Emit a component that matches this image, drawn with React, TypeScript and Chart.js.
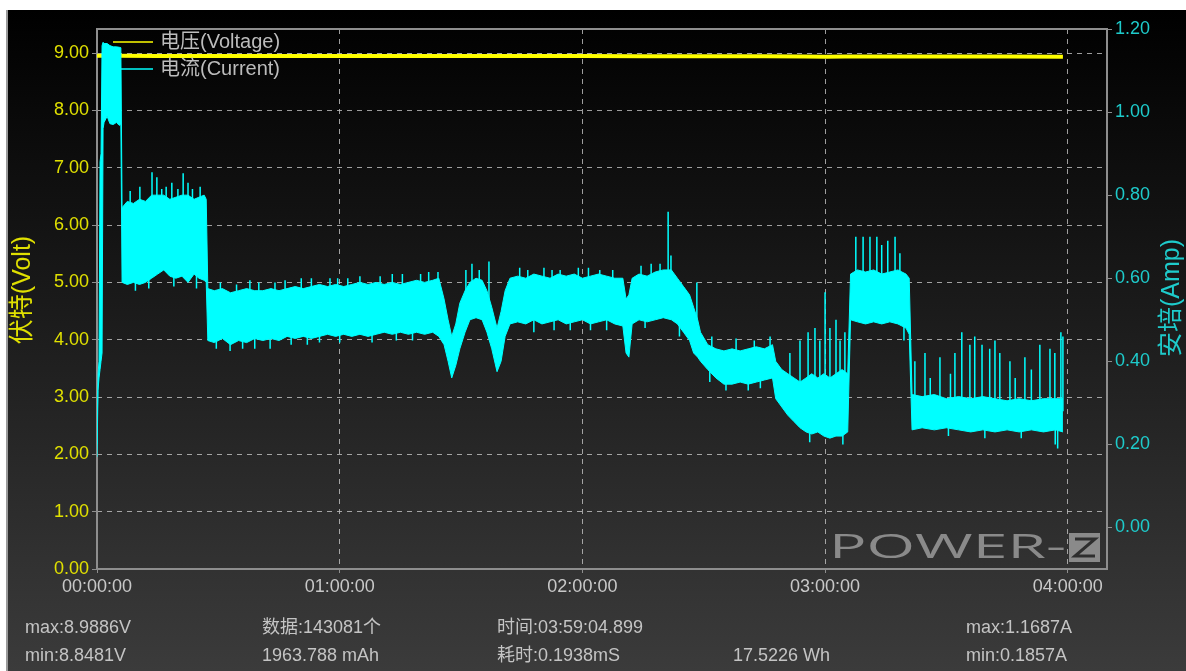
import React, { useEffect, useRef } from 'react';
import { Chart, registerables } from 'chart.js';

Chart.register(...registerables);

const FONT = '"Liberation Sans", Arial, "Noto Sans CJK SC", sans-serif';
const CYAN = '#00ffff';
const YELLOW = '#ffff00';
const YELLOW_LABEL = '#e0e000';
const CYAN_LABEL = '#1ecbcb';
const GRID = 'rgba(195,195,195,0.8)';
const FRAME = '#8e8e8e';

// ---- tick values ----
const timeTicksMin = [0, 60, 120, 180, 240];
const voltTicks = [0, 1, 2, 3, 4, 5, 6, 7, 8, 9];
const ampTicks = [0, 0.2, 0.4, 0.6, 0.8, 1.0, 1.2];

// ---- voltage (V) vs time (minutes) ----
const voltageTimes = [0, 5, 15, 30, 45, 60, 75, 90, 105, 120, 135, 150, 165, 175, 180, 185, 195, 210, 225, 238.8];
const voltageValues = [8.955, 8.955, 8.95, 8.95, 8.948, 8.95, 8.948, 8.95, 8.947, 8.947, 8.945, 8.946, 8.944, 8.94, 8.938, 8.94, 8.942, 8.94, 8.94, 8.938];

// ---- current (A) envelope vs time (minutes) ----
const currentTimes = [
  0, 0.25, 0.5, 0.75, 1.0, 1.25, 1.5, 1.75,
  2.5, 3.2, 4.0, 4.8, 5.5, 5.9,
  6.2, 7.5, 9, 10.5, 12, 13.5, 15, 16.5, 18, 19.5, 21, 22.5, 24, 25.2, 26.5, 27.0,
  27.4, 29, 31, 33, 35, 37, 39, 41, 43, 45, 47, 49, 51, 53, 55, 57, 59, 61, 63, 65, 67, 69, 71, 73, 75, 77, 79, 81, 83, 84.5,
  85.8, 86.8, 87.7, 88.7, 89.7, 91.0, 92.2, 93.7, 95.2, 96.4, 97.6, 98.9, 99.9, 100.9, 102.1,
  104, 106, 108, 110, 112, 114, 116, 118, 120, 122, 124, 126, 128, 130,
  130.8, 131.5,
  132.3, 134, 136, 138, 140, 142, 143.5, 145, 146.5, 147.5, 148.5,
  149.2, 151, 153, 155, 157, 159, 161, 163, 165, 167,
  167.8, 169.3, 170.8, 172.3, 173.8, 175.3, 176.7, 178.2, 179.7, 181.2, 182.7, 184.2, 185.6,
  186.3, 188, 190, 192, 194, 196, 198, 200, 200.8,
  201.5, 204, 207, 210, 213, 216, 219, 222, 225, 228, 231, 234, 237, 238.8,
];
const currentHigh = [
  0.20, 0.37, 0.40, 0.88, 0.90, 1.16, 1.168, 1.165,
  1.165, 1.16, 1.157, 1.157, 1.156, 1.155,
  0.77, 0.785, 0.78, 0.79, 0.785, 0.80, 0.80, 0.80, 0.79, 0.795, 0.80, 0.80, 0.79, 0.795, 0.80, 0.79,
  0.575, 0.57, 0.575, 0.565, 0.57, 0.575, 0.57, 0.57, 0.575, 0.57, 0.575, 0.58, 0.575, 0.58, 0.585, 0.58, 0.585, 0.58, 0.585, 0.59, 0.585, 0.59, 0.585, 0.59, 0.585, 0.59, 0.595, 0.59, 0.595, 0.60,
  0.55, 0.50, 0.46, 0.49, 0.54, 0.57, 0.59, 0.60, 0.595, 0.57, 0.53, 0.48, 0.52, 0.57, 0.60,
  0.605, 0.60, 0.61, 0.605, 0.60, 0.61, 0.605, 0.61, 0.60, 0.605, 0.61, 0.605, 0.60, 0.60,
  0.55, 0.56,
  0.60, 0.61, 0.605, 0.615, 0.62, 0.62, 0.60, 0.58, 0.56, 0.53, 0.50,
  0.47, 0.44, 0.43, 0.425, 0.43, 0.425, 0.43, 0.435, 0.43, 0.44,
  0.40, 0.38, 0.37, 0.36, 0.35, 0.36, 0.37, 0.36, 0.37, 0.36, 0.37, 0.38, 0.37,
  0.61, 0.62, 0.615, 0.62, 0.61, 0.615, 0.62, 0.61, 0.60,
  0.32, 0.315, 0.32, 0.31, 0.315, 0.31, 0.315, 0.31, 0.305, 0.31, 0.305, 0.31, 0.31, 0.31,
];
const currentLow = [
  0.17, 0.33, 0.36, 0.38, 0.40, 0.42, 0.96, 0.975,
  0.99, 0.972, 0.97, 0.975, 0.968, 0.97,
  0.59, 0.585, 0.59, 0.585, 0.59, 0.60, 0.61, 0.62, 0.605, 0.60, 0.605, 0.59, 0.61, 0.60, 0.595, 0.59,
  0.45, 0.445, 0.455, 0.44, 0.45, 0.445, 0.455, 0.45, 0.455, 0.45, 0.46, 0.455, 0.46, 0.455, 0.46, 0.465, 0.46, 0.465, 0.46, 0.465, 0.46, 0.465, 0.47, 0.465, 0.47, 0.465, 0.47, 0.465, 0.47, 0.46,
  0.44, 0.40, 0.36, 0.39, 0.43, 0.47, 0.50, 0.505, 0.50, 0.47, 0.43, 0.375, 0.40, 0.46, 0.49,
  0.495, 0.49, 0.50, 0.49, 0.495, 0.50, 0.49, 0.495, 0.50, 0.49, 0.495, 0.50, 0.49, 0.485,
  0.42, 0.41,
  0.49, 0.50, 0.495, 0.50, 0.505, 0.50, 0.49, 0.47, 0.45, 0.42, 0.41,
  0.40, 0.38, 0.36, 0.345, 0.345, 0.35, 0.345, 0.35, 0.355, 0.36,
  0.31, 0.29, 0.27, 0.255, 0.24, 0.23, 0.225, 0.23, 0.22, 0.215, 0.22, 0.22, 0.23,
  0.50, 0.495, 0.49, 0.495, 0.49, 0.495, 0.49, 0.48, 0.465,
  0.235, 0.24, 0.235, 0.24, 0.235, 0.23, 0.235, 0.23, 0.235, 0.23, 0.235, 0.23, 0.235, 0.23,
];

// ---- narrow current spikes: time (min), low end (A), high end (A) ----
const spikeTimes = [
  8.2, 9.5, 10.6, 12.8, 13.6, 14.8, 16.0, 17.1, 18.5, 19.0, 20.0, 21.3, 22.5, 23.6, 24.6, 25.5,
  29.5, 30.5, 32.9, 34.5, 36, 37.8, 42.8, 44, 48, 50.5, 55, 57.6, 62, 65, 68, 70, 75.5, 78, 80, 84.3,
  39, 40, 46.5, 52, 53, 59.5, 60, 73, 74, 82,
  91.2, 92.7, 94.5, 96.9,
  106.5, 108, 110.5, 114.5, 117, 119, 124.3, 126, 127.5,
  104.5, 112.5, 113, 121.5, 122,
  139.2, 141.2, 141.9, 148.3,
  134.5, 135.5, 137, 144,
  152, 155.5, 158, 161, 166.4,
  151.5, 162.5, 164,
  171.3, 173.8, 175.8, 176.2, 177.5, 178.7, 180.0, 181.2, 182.7, 183.7, 184.4, 184.9,
  187.6, 189.4, 191.1, 192.8, 194.0, 195.5, 197.3, 198.5, 199.5,
  202.2, 204.7, 208.4, 210.5, 212.1, 213.8, 215.8, 217.0, 218.8, 220.7, 222.0, 223.2, 225.7, 229.4, 233.1, 235.6, 236.8, 236.9, 237.5, 238.3, 238.8,
  206, 211, 219.5, 227, 228.5, 231,
];
const spikeLows = [
  0.70, 0.57, 0.70, 0.575, 0.70, 0.70, 0.70, 0.70, 0.70, 0.58, 0.70, 0.70, 0.70, 0.70, 0.575, 0.70,
  0.43, 0.52, 0.425, 0.52, 0.43, 0.52, 0.43, 0.52, 0.44, 0.52, 0.445, 0.52, 0.52, 0.52, 0.445, 0.52, 0.52, 0.45, 0.52, 0.52,
  0.43, 0.52, 0.52, 0.44, 0.52, 0.52, 0.445, 0.52, 0.45, 0.52,
  0.55, 0.55, 0.55, 0.54,
  0.55, 0.47, 0.55, 0.55, 0.475, 0.55, 0.55, 0.475, 0.55,
  0.55, 0.55, 0.475, 0.55, 0.475,
  0.56, 0.55, 0.56, 0.42,
  0.55, 0.48, 0.55, 0.46,
  0.40, 0.33, 0.40, 0.33, 0.40,
  0.35, 0.40, 0.335,
  0.30, 0.30, 0.30, 0.205, 0.30, 0.30, 0.30, 0.30, 0.30, 0.30, 0.20, 0.30,
  0.58, 0.58, 0.58, 0.58, 0.58, 0.58, 0.58, 0.58, 0.45,
  0.28, 0.28, 0.28, 0.22, 0.28, 0.28, 0.28, 0.28, 0.28, 0.28, 0.28, 0.28, 0.28, 0.28, 0.28, 0.28, 0.28, 0.20, 0.19, 0.28, 0.28,
  0.28, 0.28, 0.215, 0.28, 0.215, 0.28,
];
const spikeHighs = [
  0.81, 0.65, 0.82, 0.65, 0.855, 0.843, 0.815, 0.82, 0.83, 0.65, 0.815, 0.853, 0.83, 0.815, 0.65, 0.82,
  0.50, 0.59, 0.50, 0.585, 0.50, 0.595, 0.50, 0.59, 0.50, 0.60, 0.50, 0.60, 0.60, 0.605, 0.50, 0.605, 0.61, 0.50, 0.61, 0.615,
  0.50, 0.59, 0.595, 0.50, 0.60, 0.60, 0.50, 0.61, 0.50, 0.615,
  0.62, 0.635, 0.62, 0.64,
  0.62, 0.52, 0.625, 0.62, 0.52, 0.625, 0.62, 0.52, 0.62,
  0.625, 0.62, 0.52, 0.625, 0.52,
  0.635, 0.76, 0.655, 0.59,
  0.63, 0.52, 0.635, 0.50,
  0.46, 0.38, 0.455, 0.38, 0.46,
  0.40, 0.45, 0.38,
  0.42, 0.45, 0.47, 0.26, 0.48, 0.45, 0.566, 0.48, 0.50, 0.45, 0.26, 0.47,
  0.70, 0.70, 0.70, 0.70, 0.68, 0.69, 0.70, 0.66, 0.52,
  0.40, 0.42, 0.41, 0.25, 0.42, 0.47, 0.44, 0.46, 0.44, 0.43, 0.45, 0.42, 0.40, 0.41, 0.44, 0.43, 0.42, 0.25, 0.25, 0.47, 0.46,
  0.36, 0.37, 0.25, 0.36, 0.25, 0.38,
];

// ---- text ----
const legendLabels = ['电压(Voltage)', '电流(Current)'];
const axisTitles = ['伏特(Volt)', '安培(Amp)'];
const footerRow1 = ['max:8.9886V', '数据:143081个', '时间:03:59:04.899', '', 'max:1.1687A'];
const footerRow2 = ['min:8.8481V', '1963.788 mAh', '耗时:0.1938mS', '17.5226 Wh', 'min:0.1857A'];
const footerColumnsX = [25, 262, 497, 733, 966];

const hms = (m: number) => {
  const tot = Math.round(m * 60);
  const h = Math.floor(tot / 3600);
  const mm = Math.floor((tot % 3600) / 60);
  const s = tot % 60;
  return [h, mm, s].map((v) => String(v).padStart(2, '0')).join(':');
};

const decorPlugin = {
  id: 'decor',
  beforeDraw(chart: any) {
    const { ctx, chartArea: a } = chart;
    // POWER-Z watermark
    ctx.save();
    ctx.fillStyle = '#8a8a8a';
    ctx.font = '400 32px "Open Sans", "DejaVu Sans", sans-serif';
    ctx.textBaseline = 'alphabetic';
    const txt = 'POWER-';
    const w = ctx.measureText(txt).width;
    const left = a.right - 278;
    const targetW = 237;
    ctx.translate(left, a.bottom - 11);
    ctx.scale(targetW / w, 1);
    ctx.fillText(txt, 0, 0);
    ctx.restore();
    ctx.save();
    const bx = a.right - 38;
    const by = a.bottom - 36;
    ctx.fillStyle = '#8a8a8a';
    ctx.fillRect(bx, by, 31, 29);
    ctx.strokeStyle = '#2e2e2e';
    ctx.lineWidth = 3;
    ctx.beginPath();
    ctx.moveTo(bx + 6, by + 6);
    ctx.lineTo(bx + 26, by + 6);
    ctx.lineTo(bx + 6, by + 23);
    ctx.lineTo(bx + 26, by + 23);
    ctx.stroke();
    ctx.restore();
  },
  beforeDatasetsDraw(chart: any) {
    const { ctx, chartArea: a } = chart;
    ctx.save();
    ctx.strokeStyle = FRAME;
    ctx.lineWidth = 2;
    ctx.strokeRect(a.left, a.top, a.right - a.left, a.bottom - a.top);
    ctx.restore();
  },
  afterDatasetsDraw(chart: any) {
    const { ctx, chartArea: a } = chart;
    ctx.save();
    ctx.font = `20px ${FONT}`;
    ctx.textBaseline = 'middle';
    ctx.textAlign = 'left';
    const colors = [YELLOW, CYAN];
    const ys = [a.top + 13, a.top + 40];
    legendLabels.forEach((lab, i) => {
      ctx.strokeStyle = colors[i];
      ctx.lineWidth = 1.5;
      ctx.beginPath();
      ctx.moveTo(a.left + 16, ys[i]);
      ctx.lineTo(a.left + 56, ys[i]);
      ctx.stroke();
      ctx.fillStyle = '#bcbcbc';
      ctx.fillText(lab, a.left + 63, ys[i]);
    });
    ctx.restore();
  },
  afterDraw(chart: any) {
    const { ctx } = chart;
    ctx.save();
    ctx.font = `25px ${FONT}`;
    ctx.textAlign = 'center';
    ctx.textBaseline = 'middle';
    const pos = [
      { x: 23, y: 290, c: YELLOW_LABEL },
      { x: 1172, y: 298, c: CYAN_LABEL },
    ];
    axisTitles.forEach((t, i) => {
      ctx.save();
      ctx.translate(pos[i].x, pos[i].y);
      ctx.rotate(-Math.PI / 2);
      ctx.fillStyle = pos[i].c;
      ctx.fillText(t, 0, 0);
      ctx.restore();
    });
    ctx.restore();
  },
};

export default function App() {
  const canvasRef = useRef<HTMLCanvasElement | null>(null);

  useEffect(() => {
    const canvas = canvasRef.current;
    if (!canvas) return;
    const spikeOrder = spikeTimes.map((_, i) => i).sort((p, q) => spikeTimes[p] - spikeTimes[q]);
    const spikeData: any[] = [];
    spikeOrder.forEach((i) => {
      spikeData.push({ x: spikeTimes[i], y: spikeLows[i] });
      spikeData.push({ x: spikeTimes[i], y: spikeHighs[i] });
      spikeData.push({ x: spikeTimes[i], y: null });
    });
    const tickFont = { family: FONT, size: 18 };

    const chart = new Chart(canvas, {
      type: 'line',
      data: {
        datasets: [
          {
            label: 'current-high',
            data: currentTimes.map((t, i) => ({ x: t, y: currentHigh[i] })),
            yAxisID: 'yA',
            borderColor: CYAN,
            backgroundColor: CYAN,
            borderWidth: 1,
            pointRadius: 0,
            fill: '+1',
            order: 1,
          },
          {
            label: 'current-low',
            data: currentTimes.map((t, i) => ({ x: t, y: currentLow[i] })),
            yAxisID: 'yA',
            borderColor: CYAN,
            backgroundColor: CYAN,
            borderWidth: 1,
            pointRadius: 0,
            fill: false,
            order: 1,
          },
          {
            label: 'current-spikes',
            data: spikeData,
            yAxisID: 'yA',
            borderColor: CYAN,
            borderWidth: 1.5,
            pointRadius: 0,
            fill: false,
            spanGaps: false,
            order: 1,
          },
          {
            label: 'voltage',
            data: voltageTimes.map((t, i) => ({ x: t, y: voltageValues[i] })),
            yAxisID: 'yV',
            borderColor: YELLOW,
            backgroundColor: YELLOW,
            borderWidth: 4,
            pointRadius: 0,
            fill: false,
            order: 2,
          },
        ],
      },
      options: {
        animation: false,
        responsive: false,
        devicePixelRatio: 1,
        layout: { padding: { top: 29, bottom: 72, left: 0, right: 0 } },
        plugins: { legend: { display: false }, tooltip: { enabled: false } },
        scales: {
          x: {
            type: 'linear',
            min: 0,
            max: 249.7,
            afterBuildTicks: (s: any) => {
              s.ticks = timeTicksMin.map((v) => ({ value: v }));
            },
            afterFit: (s: any) => {
              s.height = 30;
            },
            ticks: {
              color: '#c8c8c8',
              font: tickFont,
              padding: 3,
              maxRotation: 0,
              autoSkip: false,
              callback: (v: any) => hms(Number(v)),
            },
            grid: { color: GRID, lineWidth: 1, drawTicks: true, tickLength: 4, tickColor: FRAME, tickBorderDash: [] },
            border: { display: false, dash: [5, 5] },
          },
          yV: {
            type: 'linear',
            position: 'left',
            min: 0,
            max: 9.42,
            afterBuildTicks: (s: any) => {
              s.ticks = voltTicks.map((v) => ({ value: v }));
            },
            afterFit: (s: any) => {
              s.width = 97;
            },
            ticks: {
              color: YELLOW_LABEL,
              font: tickFont,
              padding: 3,
              autoSkip: false,
              callback: (v: any) => Number(v).toFixed(2),
            },
            grid: { color: GRID, lineWidth: 1, drawTicks: true, tickLength: 5, tickColor: FRAME, tickBorderDash: [] },
            border: { display: false, dash: [5, 5] },
          },
          yA: {
            type: 'linear',
            position: 'right',
            min: -0.1,
            max: 1.2,
            afterBuildTicks: (s: any) => {
              s.ticks = ampTicks.map((v) => ({ value: v }));
            },
            afterFit: (s: any) => {
              s.width = 79;
            },
            ticks: {
              color: CYAN_LABEL,
              font: tickFont,
              padding: 3,
              autoSkip: false,
              callback: (v: any) => Number(v).toFixed(2),
            },
            grid: { drawOnChartArea: false, drawTicks: true, tickLength: 5, tickColor: FRAME, tickBorderDash: [] },
            border: { display: false },
          },
        },
      } as any,
      plugins: [decorPlugin],
    });
    return () => chart.destroy();
  }, []);

  const footerStyle: React.CSSProperties = {
    position: 'absolute',
    fontFamily: FONT,
    fontSize: 18,
    lineHeight: '22px',
    color: '#c4c4c4',
    whiteSpace: 'nowrap',
  };

  return (
    <div style={{ position: 'absolute', left: 0, top: 0, width: 1186, height: 671, overflow: 'hidden', background: '#ffffff' }}>
      <div
        style={{
          position: 'absolute',
          left: 6,
          top: 10,
          width: 1180,
          height: 661,
          boxSizing: 'border-box',
          borderLeft: '2px solid #9a9a9a',
          background: 'linear-gradient(to bottom, #000000 0%, #3b3b3b 100%)',
        }}
      />
      <canvas ref={canvasRef} width={1186} height={671} style={{ position: 'absolute', left: 0, top: 0, width: 1186, height: 671 }} />
      {footerRow1.map((t, i) =>
        t ? (
          <div key={'r1' + i} style={{ ...footerStyle, left: footerColumnsX[i], top: 616 }}>
            {t}
          </div>
        ) : null
      )}
      {footerRow2.map((t, i) =>
        t ? (
          <div key={'r2' + i} style={{ ...footerStyle, left: footerColumnsX[i], top: 644 }}>
            {t}
          </div>
        ) : null
      )}
    </div>
  );
}
